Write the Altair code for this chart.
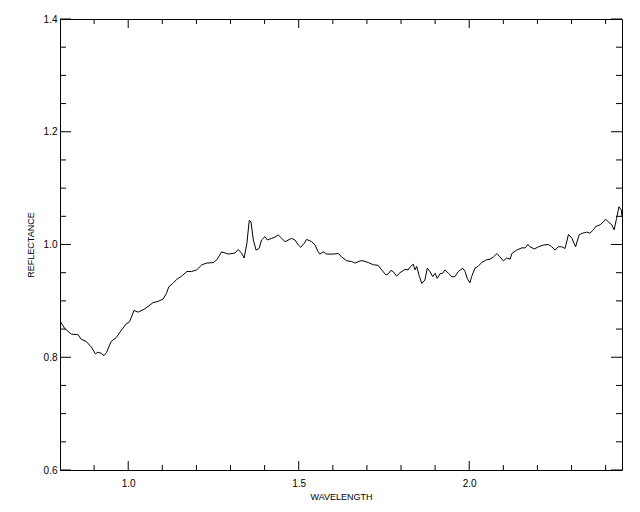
import altair as alt
import pandas as pd

wavelength = [
    0.800, 0.814, 0.833, 0.853, 0.862, 0.877, 0.892, 0.904, 0.911, 0.921, 0.929, 0.936,
    0.950, 0.965, 0.980, 0.994, 1.004, 1.017, 1.029, 1.046, 1.058, 1.073, 1.087, 1.102,
    1.112, 1.119, 1.131, 1.142, 1.157, 1.172, 1.186, 1.201, 1.216, 1.230, 1.250, 1.260,
    1.274, 1.284, 1.294, 1.304, 1.313, 1.323, 1.333, 1.340, 1.348, 1.355, 1.360, 1.367,
    1.375, 1.384, 1.391, 1.401, 1.408, 1.421, 1.430, 1.440, 1.450, 1.460, 1.479, 1.489,
    1.499, 1.506, 1.516, 1.523, 1.538, 1.548, 1.557, 1.562, 1.572, 1.582, 1.601, 1.616,
    1.626, 1.641, 1.655, 1.665, 1.680, 1.689, 1.704, 1.719, 1.733, 1.743, 1.756, 1.763,
    1.770, 1.777, 1.787, 1.797, 1.812, 1.821, 1.828, 1.836, 1.841, 1.846, 1.854, 1.861,
    1.870, 1.877, 1.885, 1.893, 1.900, 1.906, 1.914, 1.922, 1.929, 1.939, 1.949, 1.958,
    1.968, 1.981, 1.988, 1.994, 2.002, 2.007, 2.017, 2.027, 2.037, 2.051, 2.061, 2.071,
    2.081, 2.090, 2.100, 2.110, 2.120, 2.125, 2.139, 2.154, 2.164, 2.172, 2.178, 2.191,
    2.203, 2.217, 2.232, 2.242, 2.252, 2.261, 2.271, 2.281, 2.291, 2.301, 2.312, 2.322,
    2.332, 2.345, 2.354, 2.364, 2.371, 2.384, 2.393, 2.400, 2.408, 2.418, 2.425, 2.432,
    2.439, 2.446, 2.448,
]
reflectance = [
    0.864, 0.851, 0.841, 0.840, 0.832, 0.828, 0.818, 0.806, 0.809, 0.807, 0.803, 0.808,
    0.828, 0.835, 0.848, 0.859, 0.863, 0.883, 0.880, 0.885, 0.890, 0.897, 0.899, 0.903,
    0.913, 0.925, 0.931, 0.938, 0.944, 0.952, 0.952, 0.955, 0.964, 0.967, 0.968, 0.973,
    0.987, 0.985, 0.983, 0.984, 0.985, 0.991, 0.984, 0.976, 1.002, 1.043, 1.040, 1.008,
    0.990, 0.993, 1.008, 1.014, 1.008, 1.011, 1.013, 1.017, 1.011, 1.005, 1.011, 1.008,
    0.999, 0.995, 1.002, 1.009, 1.005, 0.999, 0.987, 0.983, 0.987, 0.983, 0.983, 0.984,
    0.978, 0.971, 0.970, 0.967, 0.971, 0.971, 0.968, 0.964, 0.963, 0.955, 0.946, 0.948,
    0.954, 0.952, 0.944, 0.950, 0.956, 0.955, 0.961, 0.965, 0.955, 0.961, 0.943, 0.931,
    0.937, 0.958, 0.952, 0.943, 0.949, 0.940, 0.948, 0.949, 0.955, 0.949, 0.943, 0.943,
    0.952, 0.958, 0.952, 0.940, 0.932, 0.943, 0.958, 0.962, 0.968, 0.973, 0.974, 0.978,
    0.984, 0.978, 0.971, 0.976, 0.974, 0.984, 0.990, 0.994, 0.994, 1.000, 0.996, 0.992,
    0.996, 0.999, 1.000, 0.996, 0.990, 0.996, 0.996, 0.993, 1.018, 1.011, 0.996, 1.017,
    1.020, 1.022, 1.020, 1.026, 1.032, 1.035, 1.040, 1.045, 1.040, 1.035, 1.026, 1.046,
    1.067, 1.061, 1.049,
]

x_major = [1.0, 1.5, 2.0]
x_minor = [0.9, 1.1, 1.2, 1.3, 1.4, 1.6, 1.7, 1.8, 1.9, 2.1, 2.2, 2.3, 2.4]
y_major = [0.6, 0.8, 1.0, 1.2, 1.4]
y_minor = [0.65, 0.7, 0.75, 0.85, 0.9, 0.95, 1.05, 1.1, 1.15, 1.25, 1.3, 1.35]

x_domain = [0.8, 2.448]
y_domain = [0.6, 1.4]

W, H = 562, 451
FONT = "Liberation Sans"

df = pd.DataFrame({"wl": wavelength, "r": reflectance})

xscale = alt.Scale(domain=x_domain, nice=False, zero=False)
yscale = alt.Scale(domain=y_domain, nice=False, zero=False)

xaxis = alt.Axis(
    values=x_major, format=".1f", title="WAVELENGTH", grid=False, domain=False,
    ticks=False, tickSize=0, labelPadding=8, labelFontSize=10, labelFont=FONT,
    labelColor="black", titleFont=FONT, titleFontSize=9, titleFontWeight="normal",
    titleColor="black", titleX=W / 2, titleY=26, titleBaseline="middle",
    titleAlign="center", labelFlush=False,
)
yaxis = alt.Axis(
    values=y_major, format=".1f", title="REFLECTANCE", grid=False, domain=False,
    ticks=False, tickSize=0, labelPadding=3, labelFontSize=10, labelFont=FONT,
    labelColor="black", titleFont=FONT, titleFontSize=9, titleFontWeight="normal",
    titleColor="black", titleX=-30, titleY=H / 2, titleAngle=-90,
    titleBaseline="middle", titleAlign="center",
)

X = alt.X("wl:Q", scale=xscale, axis=xaxis)
Y = alt.Y("r:Q", scale=yscale, axis=yaxis)

line = alt.Chart(df).mark_line(color="black", strokeWidth=1, clip=True).encode(
    x=X, y=Y, order="wl:Q"
)


def xticks(vals, length):
    d = pd.DataFrame({"wl": vals})
    bottom = alt.Chart(d).mark_rule(color="black", strokeWidth=1).encode(
        x=X, y=alt.value(H), y2=alt.value(H - length)
    )
    top = alt.Chart(d).mark_rule(color="black", strokeWidth=1).encode(
        x=X, y=alt.value(0), y2=alt.value(length)
    )
    return [bottom, top]


def yticks(vals, length):
    d = pd.DataFrame({"r": vals})
    left = alt.Chart(d).mark_rule(color="black", strokeWidth=1).encode(
        y=Y, x=alt.value(0), x2=alt.value(length)
    )
    right = alt.Chart(d).mark_rule(color="black", strokeWidth=1).encode(
        y=Y, x=alt.value(W), x2=alt.value(W - length)
    )
    return [left, right]


layers = [line] + xticks(x_major, 9) + xticks(x_minor, 5) + yticks(y_major, 11) + yticks(y_minor, 6)

chart = (
    alt.layer(*layers)
    .properties(
        width=W,
        height=H,
        autosize=alt.AutoSizeParams(type="none"),
        padding={"left": 52, "top": 11, "right": 10, "bottom": 35},
        background="white",
    )
    .configure_view(stroke="black", strokeWidth=1)
)

chart.save("out.html", embed_options={"renderer": "svg", "actions": False})
